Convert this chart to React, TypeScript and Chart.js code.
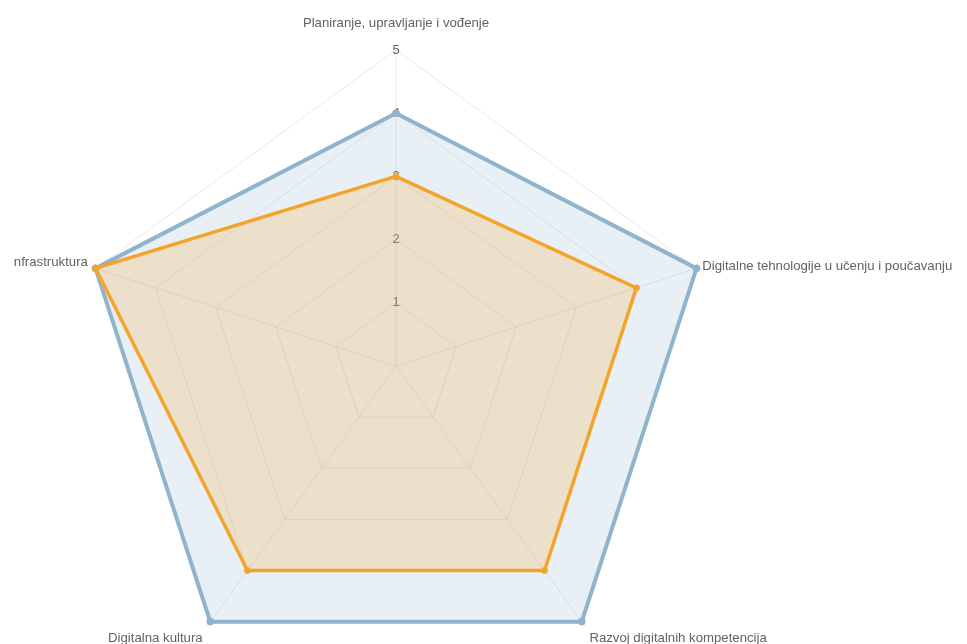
import React, { useEffect, useRef } from "react";
import { Chart, registerables } from "chart.js";

Chart.register(...registerables);

const categories = [
  "Planiranje, upravljanje i vođenje",
  "Digitalne tehnologije u učenju i poučavanju",
  "Razvoj digitalnih kompetencija",
  "Digitalna kultura",
  "Infrastruktura",
];
const targetValues = [4, 5, 5, 5, 5];
const currentValues = [3, 4, 4, 4, 5];
const scaleMin = 0;
const scaleMax = 5;
const scaleStep = 1;

const FONT = "'Liberation Sans', Arial, sans-serif";

const pointLabelPlugin = {
  id: "customPointLabels",
  afterDatasetsDraw(chart: any) {
    const scale = chart.scales.r;
    const ctx = chart.ctx;
    const labels = chart.data.labels as string[];
    const n = labels.length;
    ctx.save();
    ctx.font = `13.2px ${FONT}`;
    ctx.fillStyle = "#626262";
    for (let i = 0; i < n; i++) {
      const deg = (i * 360) / n;
      let d = 8;
      let align: CanvasTextAlign = "center";
      let baseline: CanvasTextBaseline = "middle";
      if (deg === 0) {
        d = 20;
        baseline = "bottom";
      } else if (deg < 180) {
        align = "left";
        baseline = deg < 100 ? "middle" : "top";
        d = deg < 100 ? 6 : 13;
      } else {
        align = "right";
        baseline = deg > 260 ? "alphabetic" : "top";
        d = deg > 260 ? 8 : 13;
      }
      const p = scale.getPointPosition(i, scale.drawingArea + d);
      ctx.textAlign = align;
      ctx.textBaseline = baseline;
      ctx.fillText(String(labels[i]), p.x, p.y);
    }
    ctx.restore();
  },
};

export default function App() {
  const canvasRef = useRef<HTMLCanvasElement | null>(null);

  useEffect(() => {
    if (!canvasRef.current) return;
    const chart = new Chart(canvasRef.current, {
      type: "radar",
      data: {
        labels: categories,
        datasets: [
          {
            label: "Trenutno",
            data: currentValues,
            borderColor: "#f4a42c",
            backgroundColor: "rgba(244,164,44,0.22)",
            borderWidth: 3.5,
            pointRadius: 3,
            pointBackgroundColor: "#f4a42c",
            pointBorderColor: "#f4a42c",
            pointBorderWidth: 1,
            fill: true,
          },
          {
            label: "Cilj",
            data: targetValues,
            borderColor: "#8fb4cb",
            backgroundColor: "rgba(143,180,203,0.2)",
            borderWidth: 4,
            pointRadius: 3.5,
            pointBackgroundColor: "#8fb4cb",
            pointBorderColor: "#8fb4cb",
            pointBorderWidth: 1,
            fill: true,
          },
        ],
      },
      options: {
        responsive: false,
        animation: false,
        layout: { padding: { left: 46, top: 44, right: 221, bottom: 11 } },
        plugins: {
          legend: { display: false },
          tooltip: { enabled: false },
        },
        elements: { line: { tension: 0 } },
        scales: {
          r: {
            min: scaleMin,
            max: scaleMax,
            beginAtZero: true,
            ticks: {
              stepSize: scaleStep,
              showLabelBackdrop: false,
              backdropPadding: 0,
              color: "#5e5e5e",
              font: { size: 13, family: FONT },
            },
            grid: { color: "rgba(0,0,0,0.09)", lineWidth: 1 },
            angleLines: { color: "rgba(0,0,0,0.09)", lineWidth: 1 },
            pointLabels: { display: false },
          },
        },
      },
      plugins: [pointLabelPlugin],
    });
    return () => chart.destroy();
  }, []);

  return (
    <div
      style={{
        position: "fixed",
        left: 13,
        top: 0,
        width: 954,
        height: 644,
        overflow: "hidden",
        background: "#ffffff",
      }}
    >
      <div style={{ position: "absolute", left: -13, top: 0, width: 967, height: 700 }}>
        <canvas ref={canvasRef} width={967} height={700} style={{ display: "block" }} />
      </div>
    </div>
  );
}
